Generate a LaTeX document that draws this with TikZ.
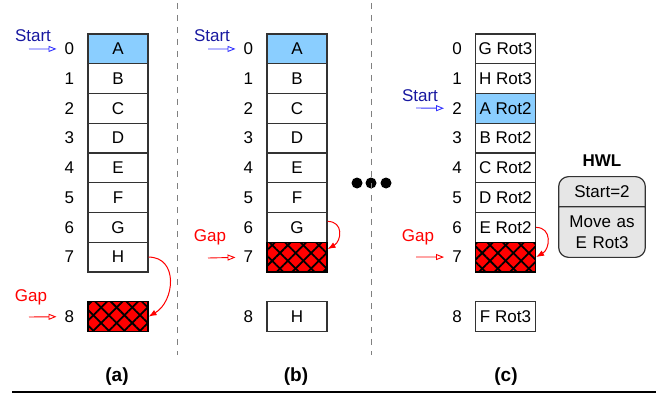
\documentclass[tikz,border=0pt]{standalone}
\usepackage{fontspec}
\setmainfont{Liberation Sans}
\usetikzlibrary{positioning,arrows.meta,patterns.meta,shapes.multipart}

\definecolor{startfill}{RGB}{138,206,255}
\definecolor{startink}{RGB}{24,24,160}
\definecolor{startptr}{RGB}{50,50,255}
\definecolor{hwlfill}{RGB}{230,230,230}

\tikzset{
  cell/.style={draw=black!80,line width=1.2pt,minimum width=60pt,minimum height=29.75pt,inner sep=0pt},
  first/.style={cell,fill=startfill},
  hole/.style={cell,draw=black,fill=red,
    postaction={pattern={Lines[angle=45,distance=11pt,line width=1.8pt]}},
    postaction={pattern={Lines[angle=-45,distance=11pt,line width=1.8pt]}}},
  idx/.style={inner sep=0pt},
  ptr/.style={line width=0.9pt,shorten >=8pt,-{Triangle[open,length=8pt,width=6pt]}},
  move/.style={red,line width=1pt,-{Latex[length=8pt,width=6pt]}},
  dot/.style={circle,fill=black,minimum size=11pt,inner sep=0pt},
  sep/.style={gray,line width=1pt,dash pattern=on 6pt off 6pt},
  caption/.style={font=\fontsize{19}{22}\selectfont\bfseries}
}

\begin{document}
\begin{tikzpicture}
  [x=1pt,y=1pt,font=\fontsize{17}{20.5}\selectfont]
  \useasboundingbox (0,0) rectangle (656,-393);

  % (a)
  \node[first] (a0) at (118,-48.9) {A};
  \node[cell] (a1) at (118,-78.6) {B};
  \node[cell] (a2) at (118,-108.4) {C};
  \node[cell] (a3) at (118,-138.1) {D};
  \node[cell] (a4) at (118,-167.9) {E};
  \node[cell] (a5) at (118,-197.6) {F};
  \node[cell] (a6) at (118,-227.4) {G};
  \node[cell] (a7) at (118,-257.1) {H};
  \node[hole] (a8) at (118,-316.6) {};
  \node[idx,left=13pt of a0] (ia0) {0};
  \node[idx,left=13pt of a1] (ia1) {1};
  \node[idx,left=13pt of a2] (ia2) {2};
  \node[idx,left=13pt of a3] (ia3) {3};
  \node[idx,left=13pt of a4] (ia4) {4};
  \node[idx,left=13pt of a5] (ia5) {5};
  \node[idx,left=13pt of a6] (ia6) {6};
  \node[idx,left=13pt of a7] (ia7) {7};
  \node[idx,left=13pt of a8] (ia8) {8};
  \node[startink,inner sep=0pt] (sta) at (33,-36) {Start};
  \coordinate (psa) at (29,-49);
  \node[red,inner sep=0pt] (gpa) at (31,-297) {Gap};
  \coordinate (pga) at (29,-317);
  \draw[ptr,startptr] (psa) -- (ia0);
  \draw[ptr,red] (pga) -- (ia8);
  \draw[move] (a7.east) to[out=0,in=30,looseness=1.3] (a8.east);

  % (b)
  \node[first] (b0) at (297,-48.9) {A};
  \node[cell] (b1) at (297,-78.6) {B};
  \node[cell] (b2) at (297,-108.4) {C};
  \node[cell] (b3) at (297,-138.1) {D};
  \node[cell] (b4) at (297,-167.9) {E};
  \node[cell] (b5) at (297,-197.6) {F};
  \node[cell] (b6) at (297,-227.4) {G};
  \node[hole] (b7) at (297,-257.1) {};
  \node[cell] (b8) at (297,-316.6) {H};
  \node[idx,left=13pt of b0] (ib0) {0};
  \node[idx,left=13pt of b1] (ib1) {1};
  \node[idx,left=13pt of b2] (ib2) {2};
  \node[idx,left=13pt of b3] (ib3) {3};
  \node[idx,left=13pt of b4] (ib4) {4};
  \node[idx,left=13pt of b5] (ib5) {5};
  \node[idx,left=13pt of b6] (ib6) {6};
  \node[idx,left=13pt of b7] (ib7) {7};
  \node[idx,left=13pt of b8] (ib8) {8};
  \node[startink,inner sep=0pt] (stb) at (212,-36) {Start};
  \coordinate (psb) at (208,-49);
  \node[red,inner sep=0pt] (gpb) at (210,-237) {Gap};
  \coordinate (pgb) at (208,-258);
  \draw[ptr,startptr] (psb) -- (ib0);
  \draw[ptr,red] (pgb) -- (ib7);
  \draw[move] ([yshift=6pt]b6.east) to[out=0,in=30,looseness=1.5] ([yshift=8pt]b7.east);

  % dots
  \node[dot] (dot1) at (357,-183) {};
  \node[dot] (dot2) at (371,-183) {};
  \node[dot] (dot3) at (386,-183) {};

  % (c)
  \node[cell] (c0) at (505.5,-48.9) {G Rot3};
  \node[cell] (c1) at (505.5,-78.6) {H Rot3};
  \node[first] (c2) at (505.5,-108.4) {A Rot2};
  \node[cell] (c3) at (505.5,-138.1) {B Rot2};
  \node[cell] (c4) at (505.5,-167.9) {C Rot2};
  \node[cell] (c5) at (505.5,-197.6) {D Rot2};
  \node[cell] (c6) at (505.5,-227.4) {E Rot2};
  \node[hole] (c7) at (505.5,-257.1) {};
  \node[cell] (c8) at (505.5,-316.6) {F Rot3};
  \node[idx,left=13pt of c0] (ic0) {0};
  \node[idx,left=13pt of c1] (ic1) {1};
  \node[idx,left=13pt of c2] (ic2) {2};
  \node[idx,left=13pt of c3] (ic3) {3};
  \node[idx,left=13pt of c4] (ic4) {4};
  \node[idx,left=13pt of c5] (ic5) {5};
  \node[idx,left=13pt of c6] (ic6) {6};
  \node[idx,left=13pt of c7] (ic7) {7};
  \node[idx,left=13pt of c8] (ic8) {8};
  \node[startink,inner sep=0pt] (stc) at (420,-96) {Start};
  \coordinate (psc) at (416,-108);
  \node[red,inner sep=0pt] (gpc) at (418,-237) {Gap};
  \coordinate (pgc) at (416,-257);
  \draw[ptr,startptr] (psc) -- (ic2);
  \draw[ptr,red] (pgc) -- (ic7);
  \draw[move] (c6.east) to[out=0,in=30,looseness=1.4] (c7.east);

  % register
  \node[rectangle split,rectangle split parts=2,draw=black!80,line width=1.2pt,
        fill=hwlfill,rounded corners=10pt,text width=80pt,align=center,
        inner ysep=8.5pt,anchor=north] (hwl) at (602,-176)
        {Start=2\nodepart{two}Move as\\E Rot3};
  \node[inner sep=0pt,above=9pt of hwl,font=\fontsize{17}{20.5}\selectfont\bfseries] (hwllbl) {HWL};

  % separators and captions
  \draw[sep] (177,-3) -- (177,-355);
  \draw[sep] (371,-3) -- (371,-355);
  \draw[line width=1.5pt] (12,-392) -- (656,-392);
  \node[caption] (capa) at (117,-377) {(a)};
  \node[caption] (capb) at (296,-377) {(b)};
  \node[caption] (capc) at (506,-377) {(c)};
\end{tikzpicture}
\end{document}
